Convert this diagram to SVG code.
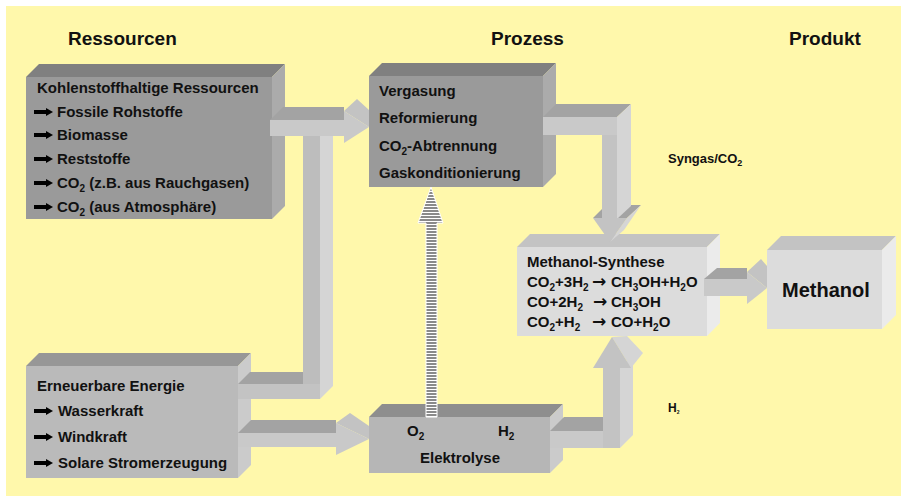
<svg xmlns="http://www.w3.org/2000/svg" width="906" height="500" viewBox="0 0 906 500">
<style>
text{font-family:"Liberation Sans",Arial,"DejaVu Sans",sans-serif;font-weight:bold;fill:#111;}
.hdr{font-size:19px;}
.t{font-size:15px;}
.big{font-size:20px;}
.sm{font-size:13px;}
.arr{font-family:"DejaVu Sans",sans-serif;font-size:17px;font-weight:bold;}
.dF{fill:#9a9a9a}.dT{fill:#808080}.dS{fill:#ababab}
.mF{fill:#bababa}.mT{fill:#979797}.mS{fill:#cbcbcb}
.lF{fill:#dcdcdc}.lT{fill:#c3c3c3}.lS{fill:#ebebeb}
.cF{fill:#c3c3c3}.cT{fill:#a3a3a3}.cS{fill:#d5d5d5}
</style>
<defs>
<polygon id="bul" points="0,-1.9 12,-1.9 12,-4 19,0 12,4 12,1.9 0,1.9" fill="#000"/>
<pattern id="stripes" width="4" height="3" patternUnits="userSpaceOnUse"><rect width="4" height="3" fill="#fff"/><rect width="4" height="2" fill="#8a8a8a"/></pattern>
</defs>
<rect x="6" y="6" width="895" height="490" fill="#FFF8AB"/>

<g id="headers">
<text class="hdr" x="68" y="45">Ressourcen</text>
<text class="hdr" x="491" y="45">Prozess</text>
<text class="hdr" x="789" y="45">Produkt</text>
</g>

<g id="kohlenstoff">
<polygon class="dT" points="26,77 39,64 285,64 272,77"/>
<polygon class="dS" points="272,77 285,64 285,206 272,219"/>
<rect class="dF" x="26" y="77" width="246" height="142"/>
<text class="t" x="37" y="93">Kohlenstoffhaltige Ressourcen</text>
<use href="#bul" x="34" y="112"/><text class="t" x="57" y="117">Fossile Rohstoffe</text>
<use href="#bul" x="34" y="135"/><text class="t" x="57" y="140">Biomasse</text>
<use href="#bul" x="34" y="159"/><text class="t" x="57" y="164">Reststoffe</text>
<use href="#bul" x="34" y="183"/><text class="t" x="57" y="188">CO<tspan font-size="10" dy="4">2</tspan><tspan dy="-4"> (z.B. aus Rauchgasen)</tspan></text>
<use href="#bul" x="34" y="207"/><text class="t" x="57" y="212">CO<tspan font-size="10" dy="4">2</tspan><tspan dy="-4"> (aus Atmosphäre)</tspan></text>
</g>

<g id="prozess">
<polygon class="dT" points="369,76 382,63 556,63 543,76"/>
<polygon class="dS" points="543,76 556,63 556,174 543,187"/>
<rect class="dF" x="369" y="76" width="174" height="111"/>
<text class="t" x="379" y="96">Vergasung</text>
<text class="t" x="379" y="123">Reformierung</text>
<text class="t" x="379" y="151">CO<tspan font-size="10" dy="4">2</tspan><tspan dy="-4">-Abtrennung</tspan></text>
<text class="t" x="379" y="178">Gaskonditionierung</text>
</g>

<g id="synthese">
<polygon class="lT" points="517,247 530,234 720,234 707,247"/>
<polygon class="lS" points="707,247 720,234 720,323 707,336"/>
<rect class="lF" x="517" y="247" width="190" height="89"/>
<text class="t" x="527" y="267">Methanol-Synthese</text>
<text class="t" x="527" y="287">CO<tspan font-size="10" dy="4">2</tspan><tspan dy="-4">+3H</tspan><tspan font-size="10" dy="4">2</tspan><tspan class="arr" x="592" dy="-4">→</tspan><tspan x="611">CH</tspan><tspan font-size="10" dy="4">3</tspan><tspan dy="-4">OH+H</tspan><tspan font-size="10" dy="4">2</tspan><tspan dy="-4">O</tspan></text>
<text class="t" x="527" y="307">CO+2H<tspan font-size="10" dy="4">2</tspan><tspan class="arr" x="593" dy="-4">→</tspan><tspan x="611">CH</tspan><tspan font-size="10" dy="4">3</tspan><tspan dy="-4">OH</tspan></text>
<text class="t" x="527" y="327">CO<tspan font-size="10" dy="4">2</tspan><tspan dy="-4">+H</tspan><tspan font-size="10" dy="4">2</tspan><tspan class="arr" x="592" dy="-4">→</tspan><tspan x="611">CO+H</tspan><tspan font-size="10" dy="4">2</tspan><tspan dy="-4">O</tspan></text>
</g>

<g id="methanol">
<polygon class="lT" points="767,250 781,236 896,236 882,250"/>
<polygon class="lS" points="882,250 896,236 896,315 882,329"/>
<rect class="lF" x="767" y="250" width="115" height="79"/>
<text class="big" x="782" y="297">Methanol</text>
</g>

<g id="erneuerbar">
<polygon class="mT" points="26,366 39,353 251,353 238,366"/>
<polygon class="mS" points="238,366 251,353 251,465 238,478"/>
<rect class="mF" x="26" y="366" width="212" height="112"/>
<text class="t" x="37" y="391">Erneuerbare Energie</text>
<use href="#bul" x="34" y="411"/><text class="t" x="58" y="416">Wasserkraft</text>
<use href="#bul" x="34" y="437"/><text class="t" x="58" y="442">Windkraft</text>
<use href="#bul" x="34" y="463"/><text class="t" x="58" y="468">Solare Stromerzeugung</text>
</g>

<g id="elektrolyse">
<polygon points="369,417 382,404 563,404 550,417" fill="#8e8e8e"/>
<polygon class="mS" points="550,417 563,404 563,460 550,473"/>
<rect x="369" y="417" width="181" height="56" fill="#b6b6b6"/>
<text class="t" x="407" y="436">O<tspan font-size="10" dy="4">2</tspan></text>
<text class="t" x="498" y="436">H<tspan font-size="10" dy="4">2</tspan></text>
<text class="t" x="420" y="463">Elektrolyse</text>
</g>

<g id="labels">
<text class="sm" x="668" y="163">Syngas/CO<tspan font-size="9" dy="3">2</tspan></text>
<text style="font-size:12px" x="668" y="412">H<tspan font-size="5" dy="2">2</tspan></text>
</g>

<g id="connectors">
<!-- Erneuerbare -> up -> Prozess -->
<polygon class="cS" points="320,136 333,123 333,386 320,399"/>
<rect x="303" y="136" width="17" height="250" fill="#bdbdbd"/>
<polygon class="cT" points="238,384 250,372 303,372 303,384"/>
<rect class="cF" x="238" y="384" width="82" height="15"/>
<polygon class="cT" points="270,120 283,107 344,107 344,120"/>
<rect x="270" y="120" width="74" height="16" fill="#c9c9c9"/>
<polygon class="cF" points="344,111 357,99 369,110 369,127"/>
<polygon points="344,111 369,127 344,143" fill="#c9c9c9"/>

<!-- Erneuerbare -> Elektrolyse -->
<polygon class="cT" points="238,433 251,420 336,420 336,433"/>
<rect x="238" y="433" width="98" height="14" fill="#c9c9c9"/>
<polygon class="cF" points="336,423 350,413 369,426 369,439"/>
<polygon points="336,423 369,439 336,455" fill="#c9c9c9"/>

<!-- Prozess -> Synthese -->
<polygon class="cT" points="593,218 606,205 641,205 627,218"/>
<polygon class="cT" points="543,117 556,104 631,104 617,117"/>
<polygon class="cS" points="617,117 631,104 631,206 617,219"/>
<rect class="cF" x="602" y="135" width="15" height="83"/>
<rect x="543" y="117" width="74" height="18" fill="#c9c9c9"/>
<polygon class="cS" points="627,218 641,205 624,230 610,242"/>
<polygon class="cF" points="593,218 627,218 610,242"/>

<!-- Elektrolyse -> Synthese -->
<polygon class="cT" points="550,431 564,417 603,417 603,431"/>
<rect x="550" y="431" width="53" height="17" fill="#c9c9c9"/>
<polygon class="cS" points="620,368 633,355 633,435 620,448"/>
<rect class="cF" x="603" y="368" width="17" height="80"/>
<polygon class="cS" points="612,337 627,336 643,353 631,368"/>
<polygon class="cF" points="593,368 631,368 612,337"/>

<!-- Synthese -> Methanol -->
<polygon class="cT" points="704,279 717,268 747,268 747,279"/>
<rect x="704" y="279" width="43" height="17" fill="#c9c9c9"/>
<polygon class="cF" points="747,272 761,259 767,266 767,288"/>
<polygon points="747,272 767,288 747,304" fill="#c9c9c9"/>

<!-- O2 striped arrow -->
<polygon points="426,417 426,223 418,223 431,187 443,223 437,223 437,417" fill="url(#stripes)" stroke="#fff" stroke-width="1"/>
</g>
</svg>
